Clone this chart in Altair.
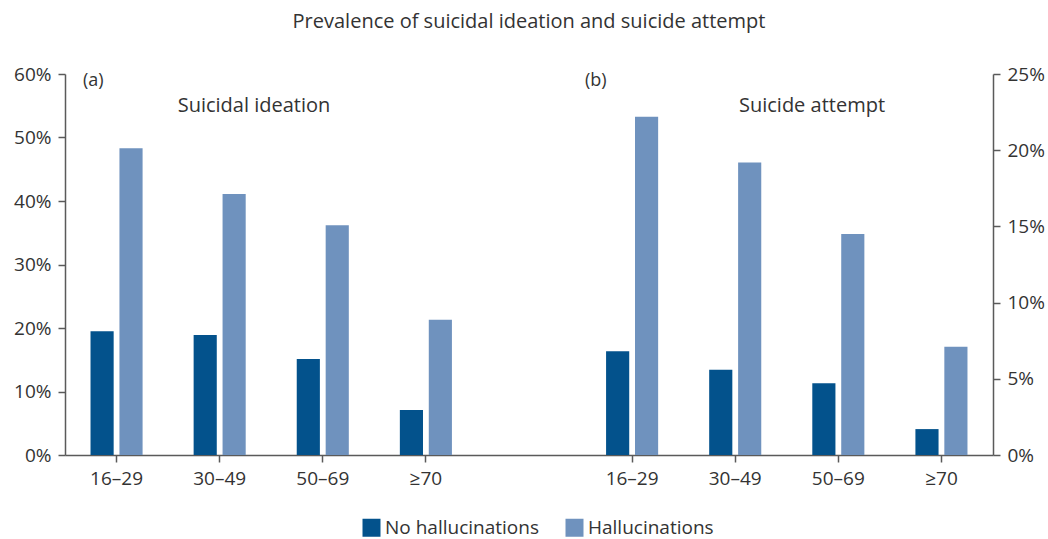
import altair as alt
import pandas as pd

# ---- data ----
ages = ["16–29", "30–49", "50–69", "≥70"]
series = ["No hallucinations", "Hallucinations"]
ideation_no = [19.5, 18.9, 15.1, 7.1]     # % (left axis)
ideation_hal = [48.3, 41.1, 36.2, 21.3]   # % (left axis)
attempt_no = [6.8, 5.6, 4.7, 1.7]         # % (right axis)
attempt_hal = [22.2, 19.2, 14.5, 7.1]     # % (right axis)
left_ticks = [0, 10, 20, 30, 40, 50, 60]
right_ticks = [0, 5, 10, 15, 20, 25]
colors = ["#03528c", "#6f92be"]

left_keys = ["a|" + a for a in ages]
right_keys = ["b|" + a for a in ages]
domain = left_keys + ["gap|"] + right_keys


def frame(keys, no, hal):
    rows = []
    for k, n, h in zip(keys, no, hal):
        rows.append({"key": k, "series": series[0], "value": n / 100})
        rows.append({"key": k, "series": series[1], "value": h / 100})
    return pd.DataFrame(rows)


FONT = "Open Sans"
TXT = "#333333"
AX = "#5a5a5a"

x = alt.X(
    "key:N",
    sort=domain,
    scale=alt.Scale(domain=domain, paddingInner=0.495, paddingOuter=0.2475),
    axis=alt.Axis(
        values=left_keys + right_keys,
        labelExpr="split(datum.value, '|')[1]",
        title=None,
        labelAngle=0,
        tickSize=7,
        labelPadding=7,
    ),
)
xoff = alt.XOffset("series:N", sort=series,
                   scale=alt.Scale(domain=series, paddingInner=0.2, paddingOuter=0))
color = alt.Color(
    "series:N",
    sort=series,
    scale=alt.Scale(domain=series, range=colors),
    legend=alt.Legend(
        title=None,
        orient="none",
        direction="horizontal",
        legendX=297,
        legendY=444,
        symbolType="square",
        symbolSize=324,
        symbolStrokeWidth=0,
        symbolOpacity=1,
        labelFont=FONT,
        labelFontSize=19,
        labelColor=TXT,
        labelOffset=4,
        columnPadding=26,
    ),
)

left = alt.Chart(frame(left_keys, ideation_no, ideation_hal)).mark_bar().encode(
    x=x,
    xOffset=xoff,
    y=alt.Y(
        "value:Q",
        scale=alt.Scale(domain=[0, 0.6], nice=False, zero=True),
        axis=alt.Axis(orient="left", values=[v / 100 for v in left_ticks],
                      format=".0%", title=None, grid=False, tickSize=7, labelPadding=7),
    ),
    color=color,
)

right = alt.Chart(frame(right_keys, attempt_no, attempt_hal)).mark_bar().encode(
    x=x,
    xOffset=xoff,
    y=alt.Y(
        "value:Q",
        scale=alt.Scale(domain=[0, 0.25], nice=False, zero=True),
        axis=alt.Axis(orient="right", values=[v / 100 for v in right_ticks],
                      format=".0%", title=None, grid=False, tickSize=7, labelPadding=7),
    ),
    color=color,
)


def note(text, px, py, size, align="left"):
    return alt.Chart(pd.DataFrame({"t": [text]})).mark_text(
        font=FONT, fontSize=size, color=TXT, align=align, baseline="alphabetic"
    ).encode(text="t:N", x=alt.value(px), y=alt.value(py))


notes = [
    note("(a)", 18, 12, 18),
    note("(b)", 520, 12, 18),
    note("Suicidal ideation", 189, 38, 20, "center"),
    note("Suicide attempt", 747, 38, 20, "center"),
]

chart = alt.layer(left, right, *notes).resolve_scale(y="independent").properties(
    width=928,
    height=381,
    autosize=alt.AutoSizeParams(type="none"),
    padding={"left": 65, "top": 74, "right": 55, "bottom": 84},
    title=alt.TitleParams(
        text="Prevalence of suicidal ideation and suicide attempt",
        font=FONT, fontSize=20, fontWeight="normal", color=TXT,
        anchor="middle", offset=33,
    ),
).configure_view(stroke=None).configure_axis(
    labelFont=FONT, labelFontSize=19, labelColor=TXT,
    domainColor=AX, tickColor=AX, domainWidth=1.5, tickWidth=1.5,
)

chart.save("out.html", embed_options={"renderer": "svg", "actions": False})
